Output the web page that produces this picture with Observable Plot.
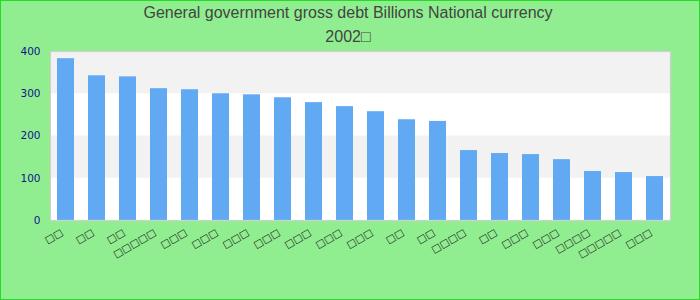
<!DOCTYPE html>
<html><head><meta charset="utf-8">
<script src="https://cdn.jsdelivr.net/npm/d3@7"></script>
<script src="https://cdn.jsdelivr.net/npm/@observablehq/plot@0.6"></script>
<style>
html,body{margin:0;padding:0;background:#90ee90;}
#chart{position:relative;width:700px;height:300px;background:#90ee90;overflow:hidden;font-family:"Liberation Sans",Arial,sans-serif;}
#edge{position:absolute;left:0;top:0;width:700px;height:300px;box-sizing:border-box;border:1px solid #22dd22;pointer-events:none;}
.t{position:absolute;left:0;width:700px;text-align:center;color:#444;font-size:16px;line-height:18px;white-space:nowrap;}
#plot{position:absolute;left:0;top:0;}
</style></head><body>
<div id="chart"><div id="plot"></div>
<div class="t" id="t1" style="top:4px;left:-2px"></div>
<div class="t" id="t2" style="top:28px;left:-2px"></div>
<div id="edge"></div></div>
<script>
const titleText = "General government gross debt Billions National currency";
const subtitleText = "2002□";
const categories = ["□□","□□","□□","□□□□□","□□□","□□□","□□□","□□□","□□□","□□□","□□□","□□","□□","□□□□","□□","□□□","□□□","□□□□","□□□□□","□□□"];
const values = [383, 342.5, 340, 312, 309.5, 300, 297.5, 290.5, 279, 269.5, 257.5, 238.5, 234.5, 165.5, 158.5, 156, 144, 116, 113.5, 104];
const yTicks = [0, 100, 200, 300, 400];

document.getElementById("t1").textContent = titleText;
document.getElementById("t2").textContent = subtitleText;

const rows = values.map((v, i) => ({i, label: categories[i], value: v}));
const bands = d3.pairs(yTicks).map(([a, b], k) => ({y1: a, y2: b, k}));

const chart = Plot.plot({
  width: 700,
  height: 300,
  marginTop: 51,
  marginBottom: 80,
  marginLeft: 50,
  marginRight: 30,
  style: {background: "transparent", overflow: "visible"},
  x: {type: "band", domain: rows.map(d => d.i), paddingInner: 0.45, paddingOuter: 0.225, axis: null},
  y: {domain: [0, 400], axis: null},
  marks: [
    Plot.frame({fill: "white", stroke: null}),
    Plot.rect(bands.filter(d => d.k % 2 === 1), {y1: "y1", y2: "y2", fill: "#f2f2f2"}),
    Plot.barY(rows, {x: "i", y: "value", fill: "#62a9f4"}),
    Plot.frame({stroke: "#d0d0d0", strokeWidth: 1.2}),
    Plot.axisY({ticks: yTicks, tickSize: 0, tickPadding: 10, label: null, fill: "#14148c", fontSize: 10.5, fontFamily: "DejaVu Sans"}),
    Plot.axisX({tickSize: 0, tickPadding: 11, dx: -4, tickRotate: -30, label: null, tickFormat: i => categories[i], fill: "#222", fontSize: 10, fontFamily: "DejaVu Sans"})
  ]
});
document.getElementById("plot").appendChild(chart);
</script>
</body></html>
